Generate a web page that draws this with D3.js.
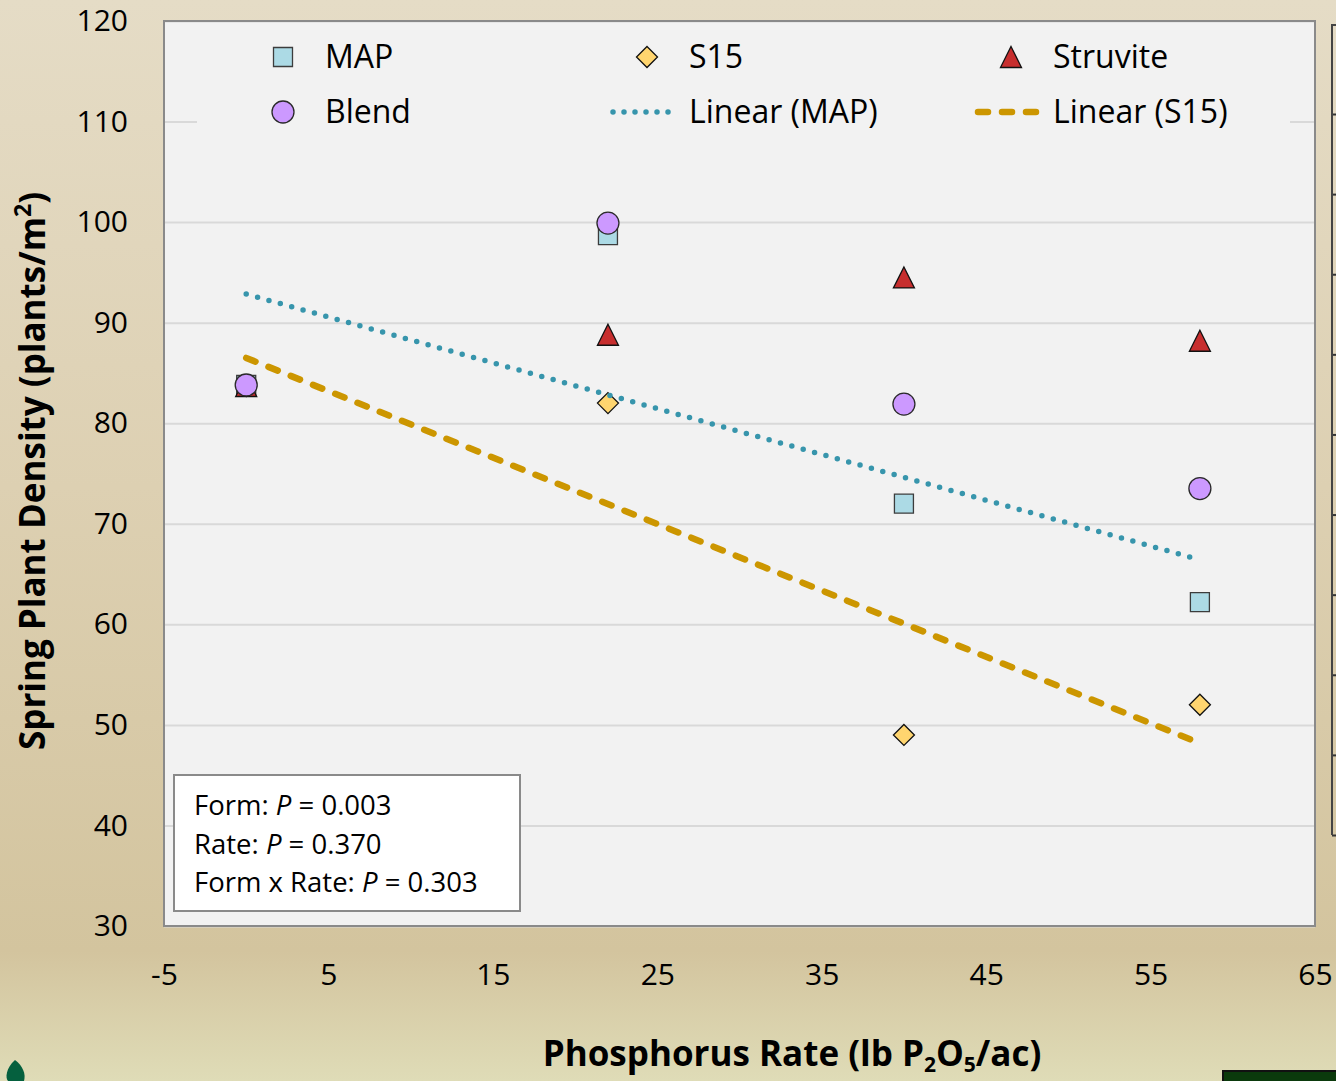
<!DOCTYPE html>
<html>
<head>
<meta charset="utf-8">
<script src="https://cdn.jsdelivr.net/npm/d3@7"></script>
<style>
  body { margin: 0; }
  svg { display: block; font-family: "Open Sans", sans-serif; }
</style>
</head>
<body>
<div id="chart"></div>
<script>
// data
var rates = [0, 22, 40, 58];
var mapVals = [83.8, 98.7, 72.0, 62.2];
var s15Vals = [83.7, 82.0, 49.0, 52.0];
var struviteVals = [83.7, 88.8, 94.5, 88.2];
var blendVals = [83.8, 99.9, 81.9, 73.5];

var xTicks = [-5, 5, 15, 25, 35, 45, 55, 65];
var yTicks = [30, 40, 50, 60, 70, 80, 90, 100, 110, 120];
var statLines = [["Form: ", "0.003"], ["Rate: ", "0.370"], ["Form x Rate: ", "0.303"]];

var W = 1336, H = 1081;
var margin = {top: 21, right: 21, bottom: 155, left: 164},
    width = W - margin.left - margin.right,
    height = H - margin.top - margin.bottom;

var x = d3.scaleLinear().domain([-5, 65]).range([0, width]);
var y = d3.scaleLinear().domain([30, 120]).range([height, 0]);

var svg = d3.select("#chart").append("svg")
    .attr("width", W)
    .attr("height", H);

// slide background
var defs = svg.append("defs");
var grad = defs.append("linearGradient").attr("id", "bg")
    .attr("x1", 0).attr("y1", 0).attr("x2", 0).attr("y2", 1);
grad.append("stop").attr("offset", "0").attr("stop-color", "#e5dcc6");
grad.append("stop").attr("offset", "0.45").attr("stop-color", "#ddd0b2");
grad.append("stop").attr("offset", "0.88").attr("stop-color", "#d3c49e");
grad.append("stop").attr("offset", "1").attr("stop-color", "#dfdcb7");
svg.append("rect").attr("width", W).attr("height", H).attr("fill", "url(#bg)");

// bits of the neighbouring slide content
var side = d3.scaleLinear().domain([0, 9]).range([835, 114]);
var sideAxis = svg.append("g")
    .attr("transform", "translate(1332,0)")
    .call(d3.axisRight(side).ticks(9).tickSize(5).tickFormat(""));
sideAxis.selectAll("line").attr("stroke", "#333").attr("stroke-width", 2);
sideAxis.select(".domain").remove();
svg.append("path")
    .attr("d", "M1332,835V25H1340")
    .attr("fill", "none").attr("stroke", "#444").attr("stroke-width", 2);

svg.append("path")
    .attr("d", "M15,1060 C6,1068 5,1078 8,1081 L24,1081 C26,1074 23,1066 15,1060 Z")
    .attr("fill", "#05603e");
svg.append("rect")
    .attr("x", 1223).attr("y", 1071).attr("width", 120).attr("height", 14)
    .attr("fill", "#0b3a0c").attr("stroke", "#111").attr("stroke-width", 2);

var g = svg.append("g")
    .attr("transform", "translate(" + margin.left + "," + margin.top + ")");

g.append("rect")
    .attr("width", width).attr("height", height)
    .attr("fill", "#f2f2f2");

// gridlines
var grid = g.append("g")
    .call(d3.axisLeft(y).tickValues(yTicks).tickSize(-width).tickFormat(""));
grid.select(".domain").remove();
grid.selectAll("line").attr("stroke", "#d9d9d9").attr("stroke-width", 2);

g.append("rect")
    .attr("width", width).attr("height", height)
    .attr("fill", "none").attr("stroke", "#8a8a8a").attr("stroke-width", 2);

// axes
var yAxis = g.append("g")
    .call(d3.axisLeft(y).tickValues(yTicks).tickSize(0).tickPadding(36)
      .tickFormat(function(d) { return String(d); }));
yAxis.select(".domain").remove();
yAxis.selectAll("text").attr("font-size", 30).attr("fill", "#000")
    .attr("font-family", "'Open Sans', sans-serif");

var xAxis = g.append("g")
    .attr("transform", "translate(0," + height + ")")
    .call(d3.axisBottom(x).tickValues(xTicks).tickSize(0).tickPadding(38)
      .tickFormat(function(d) { return String(d); }));
xAxis.select(".domain").remove();
xAxis.selectAll("text").attr("font-size", 30).attr("fill", "#000")
    .attr("font-family", "'Open Sans', sans-serif");

// axis titles
var yt = svg.append("text")
    .attr("transform", "translate(45,471) rotate(-90)")
    .attr("text-anchor", "middle")
    .attr("font-size", 35).attr("font-weight", "bold");
yt.append("tspan").text("Spring Plant Density (plants/m");
yt.append("tspan").attr("font-size", 23).attr("dy", -14).text("2");
yt.append("tspan").attr("dy", 14).text(")");

var xt = svg.append("text")
    .attr("x", 792).attr("y", 1066)
    .attr("text-anchor", "middle")
    .attr("font-size", 35).attr("font-weight", "bold");
xt.append("tspan").text("Phosphorus Rate (lb P");
xt.append("tspan").attr("font-size", 21).attr("dy", 6).text("2");
xt.append("tspan").attr("dy", -6).text("O");
xt.append("tspan").attr("font-size", 21).attr("dy", 6).text("5");
xt.append("tspan").attr("dy", -6).text("/ac)");

// marker shapes
function squarePath(s) { return "M" + (-s/2) + "," + (-s/2) + "h" + s + "v" + s + "h" + (-s) + "Z"; }
function diamondPath(s) { return "M0," + (-s/2) + "L" + (s/2) + ",0L0," + (s/2) + "L" + (-s/2) + ",0Z"; }
function trianglePath(s) { return "M0," + (-s/2) + "L" + (s/2) + "," + (s/2) + "L" + (-s/2) + "," + (s/2) + "Z"; }
function circlePath(s) { var r = s/2; return "M" + r + ",0A" + r + "," + r + " 0 1,1 " + (-r) + ",0A" + r + "," + r + " 0 1,1 " + r + ",0Z"; }

var series = [
  {name: "MAP", vals: mapVals, path: squarePath(19), fill: "#acdae5", stroke: "#3c3c3c"},
  {name: "S15", vals: s15Vals, path: diamondPath(21), fill: "#ffd56f", stroke: "#111"},
  {name: "Struvite", vals: struviteVals, path: trianglePath(21), fill: "#c72e2e", stroke: "#111"},
  {name: "Blend", vals: blendVals, path: circlePath(22), fill: "#cc99ff", stroke: "#2a2a2a"}
];

series.forEach(function(s) {
  g.selectAll(null)
    .data(rates.map(function(r, i) { return {x: r, y: s.vals[i]}; }))
    .enter().append("path")
      .attr("d", s.path)
      .attr("transform", function(d) { return "translate(" + x(d.x) + "," + y(d.y) + ")"; })
      .attr("fill", s.fill)
      .attr("stroke", s.stroke)
      .attr("stroke-width", 1.3);
});

// least squares trend lines, as the spreadsheet draws them
function fit(vals) {
  var mx = d3.mean(rates), my = d3.mean(vals);
  var sxy = d3.sum(rates, function(r, i) { return (r - mx) * (vals[i] - my); });
  var sxx = d3.sum(rates, function(r) { return (r - mx) * (r - mx); });
  var b = sxy / sxx;
  return [[rates[0], my + b * (rates[0] - mx)], [rates[3], my + b * (rates[3] - mx)]];
}

var trend = d3.line()
    .x(function(d) { return x(d[0]); })
    .y(function(d) { return y(d[1]); });

g.append("path")
    .attr("d", trend(fit(mapVals)))
    .attr("fill", "none").attr("stroke", "#3795ac")
    .attr("stroke-width", 5.5).attr("stroke-linecap", "round")
    .attr("stroke-dasharray", "0,11.8");

g.append("path")
    .attr("d", trend(fit(s15Vals)))
    .attr("fill", "none").attr("stroke", "#cc9600")
    .attr("stroke-width", 6.5).attr("stroke-linecap", "round")
    .attr("stroke-dasharray", "10,14");

// legend
var legend = svg.append("g");
legend.append("rect")
    .attr("x", 197).attr("y", 32).attr("width", 1093).attr("height", 106)
    .attr("fill", "#f2f2f2");

var legCols = [283, 647, 1011];
var legRows = [57, 112];
var legItems = [
  {label: "MAP", type: "mark", s: series[0]},
  {label: "S15", type: "mark", s: series[1]},
  {label: "Struvite", type: "mark", s: series[2]},
  {label: "Blend", type: "mark", s: series[3]},
  {label: "Linear (MAP)", type: "dot"},
  {label: "Linear (S15)", type: "dash"}
];

legItems.forEach(function(it, i) {
  var cx = legCols[i % 3], cy = legRows[Math.floor(i / 3)];
  var li = legend.append("g").attr("transform", "translate(" + cx + "," + cy + ")");
  if (it.type === "mark") {
    li.append("path").attr("d", it.s.path)
      .attr("fill", it.s.fill).attr("stroke", it.s.stroke).attr("stroke-width", 1.3);
  } else if (it.type === "dot") {
    li.append("line").attr("x1", -34).attr("x2", 32)
      .attr("stroke", "#3795ac").attr("stroke-width", 5.5)
      .attr("stroke-linecap", "round").attr("stroke-dasharray", "0,11");
  } else {
    li.append("line").attr("x1", -33).attr("x2", 28)
      .attr("stroke", "#cc9600").attr("stroke-width", 6.5)
      .attr("stroke-linecap", "round").attr("stroke-dasharray", "10,14");
  }
  li.append("text")
    .attr("x", 42).attr("y", 11)
    .attr("font-size", 32)
    .text(it.label);
});

// stats box
svg.append("rect")
    .attr("x", 174).attr("y", 775).attr("width", 346).attr("height", 136)
    .attr("fill", "#fff").attr("stroke", "#8a8a8a").attr("stroke-width", 2);

var stats = svg.append("g");
statLines.forEach(function(l, i) {
  var t = stats.append("text")
    .attr("x", 194).attr("y", 815 + i * 38.5)
    .attr("font-size", 27.5);
  t.append("tspan").text(l[0]);
  t.append("tspan").attr("font-style", "italic").text("P");
  t.append("tspan").text(" = " + l[1]);
});
</script>
</body>
</html>
